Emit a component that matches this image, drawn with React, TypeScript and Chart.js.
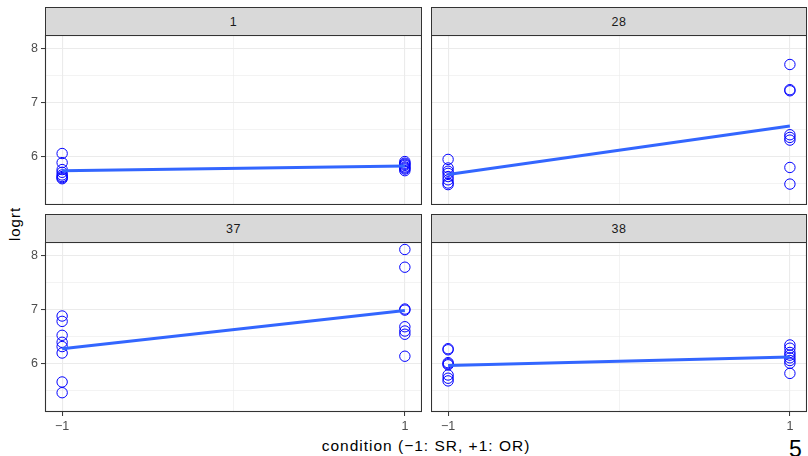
import React, { useEffect, useRef } from 'react';
import { Chart, registerables } from 'chart.js';

Chart.register(...registerables);

// ---- data ----
const panelLabels = ['1', '28', '37', '38'];
const conditionLevels = [-1, 1];
const xTickLabels = ['−1', '1'];
const yTickValues = [6, 7, 8];
const yMinorValues = [5.5, 6.5, 7.5];
const xMinorValues = [0];

const subj1SR = [6.05, 5.88, 5.75, 5.7, 5.65, 5.62, 5.6, 5.58];
const subj1OR = [5.9, 5.87, 5.85, 5.83, 5.8, 5.78, 5.76, 5.73];
const subj28SR = [5.94, 5.78, 5.72, 5.68, 5.62, 5.56, 5.5, 5.47];
const subj28OR = [7.71, 7.24, 7.22, 6.4, 6.35, 6.3, 5.79, 5.48];
const subj37SR = [6.88, 6.78, 6.52, 6.39, 6.31, 6.19, 5.65, 5.45];
const subj37OR = [8.12, 7.79, 7.01, 6.99, 6.68, 6.6, 6.54, 6.13];
const subj38SR = [6.27, 6.25, 6.01, 5.99, 5.97, 5.78, 5.72, 5.67];
const subj38OR = [6.34, 6.28, 6.2, 6.15, 6.1, 6.05, 6.0, 5.81];

const FONT = '"Liberation Sans", Arial, Helvetica, sans-serif';

const borderPlugin = {
  id: 'panelBorder',
  afterDraw(chart: any) {
    const { ctx, chartArea } = chart;
    ctx.save();
    ctx.strokeStyle = '#333333';
    ctx.lineWidth = 1.1;
    ctx.strokeRect(chartArea.left + 0.5, chartArea.top + 0.5, chartArea.right - chartArea.left - 1, chartArea.bottom - chartArea.top - 1);
    ctx.restore();
  },
};

function fitLine(sr: number[], or: number[]) {
  const pts = [...sr.map((y) => [conditionLevels[0], y]), ...or.map((y) => [conditionLevels[1], y])];
  const n = pts.length;
  const mx = pts.reduce((a, p) => a + p[0], 0) / n;
  const my = pts.reduce((a, p) => a + p[1], 0) / n;
  let sxy = 0, sxx = 0;
  pts.forEach((p) => { sxy += (p[0] - mx) * (p[1] - my); sxx += (p[0] - mx) * (p[0] - mx); });
  const b = sxy / sxx;
  const a = my - b * mx;
  return conditionLevels.map((x) => ({ x, y: a + b * x }));
}

type PanelProps = {
  label: string; sr: number[]; or: number[];
  left: number; top: number; width: number; height: number;
  showX: boolean; showY: boolean; leftSpace: number; bottomSpace: number;
};

function Panel(p: PanelProps) {
  const ref = useRef<HTMLCanvasElement>(null);
  useEffect(() => {
    const points = [
      ...p.sr.map((y) => ({ x: conditionLevels[0], y })),
      ...p.or.map((y) => ({ x: conditionLevels[1], y })),
    ];
    const tickFont = { family: FONT, size: 12.5 };
    const isMajorX = (v: number) => conditionLevels.includes(v);
    const isMajorY = (v: number) => yTickValues.includes(v);
    const chart = new Chart(ref.current as HTMLCanvasElement, {
      type: 'scatter',
      data: {
        datasets: [
          {
            type: 'line',
            data: fitLine(p.sr, p.or),
            borderColor: '#3366FF',
            borderWidth: 3,
            pointRadius: 0,
            fill: false,
            order: 0,
          } as any,
          {
            data: points,
            pointRadius: 5.2,
            pointBorderWidth: 1,
            borderColor: '#0000FF',
            backgroundColor: 'rgba(0,0,0,0)',
            pointBackgroundColor: 'rgba(0,0,0,0)',
            pointBorderColor: '#0000FF',
            order: 1,
          } as any,
        ],
      },
      options: {
        animation: false,
        responsive: false,
        layout: { padding: 0, autoPadding: false },
        plugins: { legend: { display: false }, tooltip: { enabled: false } },
        scales: {
          x: {
            type: 'linear',
            min: -1.1,
            max: 1.1,
            afterBuildTicks: (s: any) => {
              s.ticks = [...conditionLevels, ...xMinorValues].sort((a, b) => a - b).map((v) => ({ value: v }));
            },
            afterFit: (s: any) => { s.height = p.bottomSpace; s.paddingLeft = 0; s.paddingRight = 0; },
            border: { display: false },
            grid: {
              color: '#EBEBEB',
              lineWidth: (c: any) => (c.tick && isMajorX(c.tick.value) ? 1.1 : 0.6),
              drawTicks: p.showX,
              tickLength: 4,
              tickWidth: 1,
              tickColor: (c: any) => (c.tick && isMajorX(c.tick.value) ? '#333333' : 'rgba(0,0,0,0)'),
            },
            ticks: {
              display: p.showX,
              autoSkip: false,
              maxRotation: 0,
              padding: 3,
              color: '#4D4D4D',
              font: tickFont,
              callback: (v: any) => {
                const i = conditionLevels.indexOf(Number(v));
                return i >= 0 ? xTickLabels[i] : '';
              },
            },
          },
          y: {
            type: 'linear',
            min: 5.09,
            max: 8.26,
            afterBuildTicks: (s: any) => {
              s.ticks = [...yTickValues, ...yMinorValues].sort((a, b) => a - b).map((v) => ({ value: v }));
            },
            afterFit: (s: any) => { s.width = p.leftSpace; s.paddingTop = 0; s.paddingBottom = 0; },
            border: { display: false },
            grid: {
              color: '#EBEBEB',
              lineWidth: (c: any) => (c.tick && isMajorY(c.tick.value) ? 1.1 : 0.6),
              drawTicks: p.showY,
              tickLength: 4,
              tickWidth: 1,
              tickColor: (c: any) => (c.tick && isMajorY(c.tick.value) ? '#333333' : 'rgba(0,0,0,0)'),
            },
            ticks: {
              display: p.showY,
              autoSkip: false,
              padding: 3,
              color: '#4D4D4D',
              font: tickFont,
              callback: (v: any) => (isMajorY(Number(v)) ? String(v) : ''),
            },
          },
        },
      } as any,
      plugins: [borderPlugin],
    });
    return () => chart.destroy();
  }, []);

  const cw = p.width + p.leftSpace;
  const ch = p.height + p.bottomSpace;
  return (
    <>
      <div
        style={{
          position: 'absolute', left: p.left, top: p.top - 28, width: p.width, height: 29,
          boxSizing: 'border-box', background: '#D9D9D9', border: '1.1px solid #333333',
          display: 'flex', alignItems: 'center', justifyContent: 'center',
          fontFamily: FONT, fontSize: 12.5, letterSpacing: 0.6, color: '#1A1A1A',
        }}
      >
        {p.label}
      </div>
      <canvas
        ref={ref}
        width={cw}
        height={ch}
        style={{ position: 'absolute', left: p.left - p.leftSpace, top: p.top, width: cw, height: ch }}
      />
    </>
  );
}

export default function App() {
  const colL = 45, colR = 431, wL = 377, wR = 376;
  const rowT = 35, rowB = 242, h = 170;
  return (
    <div style={{ position: 'absolute', left: 0, top: 0, width: 808, height: 456, overflow: 'hidden', background: '#FFFFFF' }}>
      <Panel label={panelLabels[0]} sr={subj1SR} or={subj1OR} left={colL} top={rowT} width={wL} height={h} showX={false} showY={true} leftSpace={45} bottomSpace={0} />
      <Panel label={panelLabels[1]} sr={subj28SR} or={subj28OR} left={colR} top={rowT} width={wR} height={h} showX={false} showY={false} leftSpace={0} bottomSpace={0} />
      <Panel label={panelLabels[2]} sr={subj37SR} or={subj37OR} left={colL} top={rowB} width={wL} height={h} showX={true} showY={true} leftSpace={45} bottomSpace={22} />
      <Panel label={panelLabels[3]} sr={subj38SR} or={subj38OR} left={colR} top={rowB} width={wR} height={h} showX={true} showY={false} leftSpace={0} bottomSpace={22} />
      <div
        style={{
          position: 'absolute', left: 14, top: 223.5, transform: 'translate(-50%, -50%) rotate(-90deg)',
          fontFamily: FONT, fontSize: 15, letterSpacing: 1, lineHeight: 1, color: '#000000', whiteSpace: 'nowrap',
        }}
      >
        logrt
      </div>
      <div
        style={{
          position: 'absolute', left: 426, top: 438, transform: 'translateX(-50%)',
          fontFamily: FONT, fontSize: 15.5, letterSpacing: 1, lineHeight: 1, color: '#000000', whiteSpace: 'nowrap',
        }}
      >
        condition (−1: SR, +1: OR)
      </div>
      <div
        style={{
          position: 'absolute', left: 789, top: 438, fontFamily: FONT, fontSize: 23, lineHeight: 1, color: '#000000',
        }}
      >
        5
      </div>
    </div>
  );
}
